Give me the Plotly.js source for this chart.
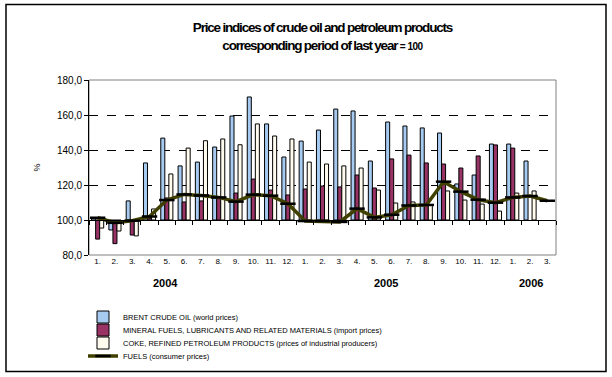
<!DOCTYPE html>
<html><head><meta charset="utf-8">
<script src="https://cdn.plot.ly/plotly-3.0.1.min.js"></script>
<style>html,body{margin:0;padding:0;background:#fff}#chart{width:612px;height:377px}</style>
</head><body><div id="chart"></div>
<script>
const monthLabels = ['1.','2.','3.','4.','5.','6.','7.','8.','9.','10.','11.','12.',
                     '1.','2.','3.','4.','5.','6.','7.','8.','9.','10.','11.','12.',
                     '1.','2.','3.'];
const yearLabels = ['2004','2005','2006'];
const brent   = [101.1,94.3,110.9,132.6,146.8,130.9,133.1,141.7,159.4,170.3,154.9,136.0,
                 145.1,151.4,163.4,162.3,133.7,156.0,153.7,152.6,149.7,120.6,125.7,143.4,
                 143.4,133.7,null];
const mineral = [89.1,86.5,91.4,101.0,112.6,110.3,110.9,113.0,115.4,123.4,117.1,114.3,
                 117.7,119.4,118.9,125.7,118.3,134.9,137.1,132.6,132.0,129.7,136.6,142.9,
                 141.1,null,null];
const coke    = [95.4,93.7,90.9,106.3,126.3,141.1,145.3,146.3,143.0,154.9,148.0,146.3,
                 133.1,132.0,130.9,129.7,117.1,109.7,110.3,108.6,116.6,111.4,109.1,105.1,
                 115.4,116.6,null];
const fuels   = [101.3,98.4,99.6,102.0,111.4,114.6,114.0,112.9,110.5,114.5,113.9,109.3,
                 99.4,99.4,98.9,106.5,101.5,103.0,108.3,108.6,121.9,116.2,111.6,109.9,
                 112.9,113.7,111.0];
const seriesNames = ['BRENT CRUDE OIL (world prices)',
  'MINERAL FUELS, LUBRICANTS AND RELATED MATERIALS (import prices)',
  'COKE, REFINED PETROLEUM PRODUCTS (prices of industrial producers)',
  'FUELS (consumer prices)'];

const BASE = 100;
const xIdx = monthLabels.map((_, i) => i);
const rel = arr => arr.map(v => v == null ? null : v - BASE);
const FONT = 'Arial, "Liberation Sans", sans-serif';

function barTrace(vals, name, color, lg) {
  return {type:'bar', x:xIdx, y:rel(vals), base:BASE, name:name, legend:lg,
    marker:{color:color, line:{color:'#000', width:1}}, hoverinfo:'skip'};
}
const traces = [
  barTrace(brent, seriesNames[0], '#a6caf0', 'legend'),
  barTrace(mineral, seriesNames[1], '#993366', 'legend2'),
  barTrace(coke, seriesNames[2], '#fffbee', 'legend3'),
  {type:'scatter', mode:'lines+markers', x:xIdx, y:fuels, name:seriesNames[3], legend:'legend4',
   line:{color:'#404000', width:3.5},
   marker:{symbol:'line-ew', size:11, color:'#000', line:{color:'#000', width:2.5}},
   hoverinfo:'skip'},
  {type:'scatter', mode:'none', x:[], y:[], xaxis:'x2', showlegend:false, hoverinfo:'skip'}
];

function lg(ypx) {
  return {x:(83-89)/467, y:(255-ypx)/175, xanchor:'left', yanchor:'middle',
    bgcolor:'rgba(0,0,0,0)', borderwidth:0, itemwidth:30,
    font:{family:FONT, size:7.5, color:'#000'}};
}
const yearFont = {family:FONT, size:11, color:'#000', weight:'bold'};

const layout = {
  width:612, height:377,
  margin:{l:89, r:56, t:80, b:122, autoexpand:false},
  paper_bgcolor:'#fff', plot_bgcolor:'#fff',
  separators:',.',
  barmode:'group', bargap:0.3, bargroupgap:0,
  showlegend:true,
  title:{text:'<span style="letter-spacing:-1.2px">Price indices of crude oil and petroleum products</span><br><span style="letter-spacing:-1.2px">corresponding period of last year </span><span style="font-size:10px;letter-spacing:-0.5px">= 100</span>',
    font:{family:'"Liberation Sans Narrow", "Arial Narrow", "Liberation Sans", Arial, sans-serif', size:13.5, color:'#000', weight:'bold'},
    x:0.5, xanchor:'center', xref:'paper', y:1-32/377, yanchor:'top', yref:'container'},
  xaxis:{type:'linear', range:[-0.5, 26.5], tickvals:xIdx, ticktext:monthLabels,
    showgrid:false, zeroline:false, showline:false, ticks:'',
    tickfont:{family:FONT, size:8, color:'#000'}, fixedrange:true},
  xaxis2:{type:'linear', overlaying:'x', anchor:'free', position:0.2, side:'bottom',
    range:[-0.5, 26.5], tick0:-0.5, dtick:1, ticks:'outside', ticklen:4, tickcolor:'#000', tickwidth:1,
    showticklabels:false, showline:true, linecolor:'#000', linewidth:1,
    showgrid:false, zeroline:false},
  yaxis:{range:[80,180], dtick:20, tickformat:'.1f',
    showgrid:true, gridcolor:'#000', griddash:'dash', gridwidth:1,
    zeroline:false, showline:true, linecolor:'#000', linewidth:1,
    ticks:'outside', ticklen:4, tickcolor:'#000',
    tickfont:{family:FONT, size:10, color:'#000'},
    title:{text:'%', font:{family:FONT, size:9, color:'#000'}, standoff:14}},
  legend:lg(317), legend2:lg(330), legend3:lg(343), legend4:lg(356),
  shapes:[
    {type:'rect', xref:'paper', yref:'paper', x0:0, x1:1, y0:0, y1:1,
     line:{color:'#808080', width:1}, layer:'below'},
    {type:'rect', xref:'paper', yref:'paper', x0:(6-89)/467, x1:(606-89)/467,
     y0:(255-371.5)/175, y1:(255-4.5)/175, line:{color:'#000', width:1.5}, layer:'below'}
  ],
  annotations:[
    {text:yearLabels[0], x:3.9, xref:'x', y:(255-283)/175, yref:'paper', yanchor:'middle', showarrow:false, font:yearFont},
    {text:yearLabels[1], x:16.65, xref:'x', y:(255-283)/175, yref:'paper', yanchor:'middle', showarrow:false, font:yearFont},
    {text:yearLabels[2], x:25.05, xref:'x', y:(255-283)/175, yref:'paper', yanchor:'middle', showarrow:false, font:yearFont}
  ]
};
Plotly.newPlot('chart', traces, layout, {staticPlot:true, displayModeBar:false});
</script></body></html>
